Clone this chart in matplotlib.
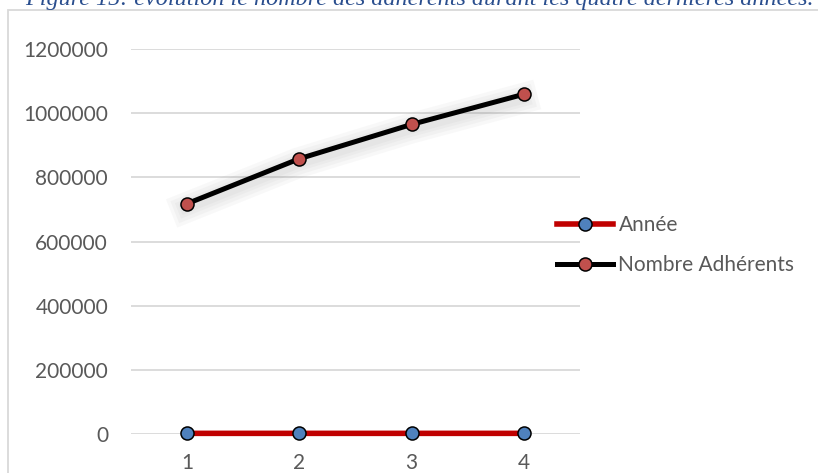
import matplotlib
matplotlib.use("Agg")
import matplotlib.pyplot as plt
import matplotlib.patheffects as pe
from matplotlib.patches import Rectangle

categories = [1, 2, 3, 4]
annee = [2016, 2017, 2018, 2019]
nombre_adherents = [718000, 858000, 965000, 1059000]
y_ticks = [0, 200000, 400000, 600000, 800000, 1000000, 1200000]
title = "Figure 15: évolution le nombre des adhérents durant les quatre dernières années."

W, H = 818, 473
DPI = 100
fig = plt.figure(figsize=(W / DPI, H / DPI), dpi=DPI)

def fx(px):
    return px / W

def fy(py):
    return 1 - py / H

# outer chart frame (cut at right/bottom)
fig.patches.append(Rectangle((fx(8), -0.2), 1.2, fy(10) + 0.2, transform=fig.transFigure,
                             fill=False, edgecolor="#D9D9D9", linewidth=1.3, zorder=0))

# title (partly cut at top)
t = fig.text(fx(25), fy(5), title, fontfamily="Liberation Serif", style="italic",
             color="#2A4E8E", fontsize=17, ha="left", va="baseline")
fig.canvas.draw()
bb = t.get_window_extent()
t.set_fontsize(17 * 788 / bb.width)

ax = fig.add_axes([fx(131), fy(434), fx(580) - fx(131), fy(49) - fy(434)])
ax.set_xlim(0.5, 4.5)
ax.set_ylim(0, 1200000)
ax.set_yticks(y_ticks)
ax.set_yticklabels([str(v) for v in y_ticks])
ax.set_xticks(categories)
ax.set_xticklabels([str(c) for c in categories])
for s in ax.spines.values():
    s.set_visible(False)
ax.grid(axis="y", color="#D9D9D9", linewidth=1.3)
ax.set_axisbelow(True)
ax.tick_params(length=0, labelsize=15, labelcolor="#595959")
ax.tick_params(axis="y", pad=16.5)
ax.tick_params(axis="x", pad=14)
for lab in ax.get_xticklabels() + ax.get_yticklabels():
    lab.set_fontfamily("Lato")

ax.plot(categories, annee, color="#C00000", linewidth=4.0, marker="o", markersize=9.4,
        markerfacecolor="#4F81BD", markeredgecolor="black", markeredgewidth=1.1,
        label="Année", clip_on=False, zorder=3)

# soft shadow under the black line only
shadow = [pe.Stroke(linewidth=w, foreground="#808080", alpha=0.05, offset=(-1, -3))
          for w in (22, 17, 12, 8)]
ax.plot(categories, nombre_adherents, color="none", linewidth=3.6,
        path_effects=shadow, zorder=2, clip_on=False)
ax.plot(categories, nombre_adherents, color="black", linewidth=3.6, marker="o", markersize=9.4,
        markerfacecolor="#C0504D", markeredgecolor="black", markeredgewidth=1.1,
        label="Nombre Adhérents", clip_on=False, zorder=3)

leg = ax.legend(loc="center left", bbox_to_anchor=(fx(557), fy(245)),
                bbox_transform=fig.transFigure, frameon=False,
                prop={"family": "Lato", "size": 15}, handlelength=2.7,
                handletextpad=0.25, labelspacing=0.95, borderpad=0, borderaxespad=0)
for txt in leg.get_texts():
    txt.set_color("#595959")

fig.savefig("out.png", dpi=DPI)
